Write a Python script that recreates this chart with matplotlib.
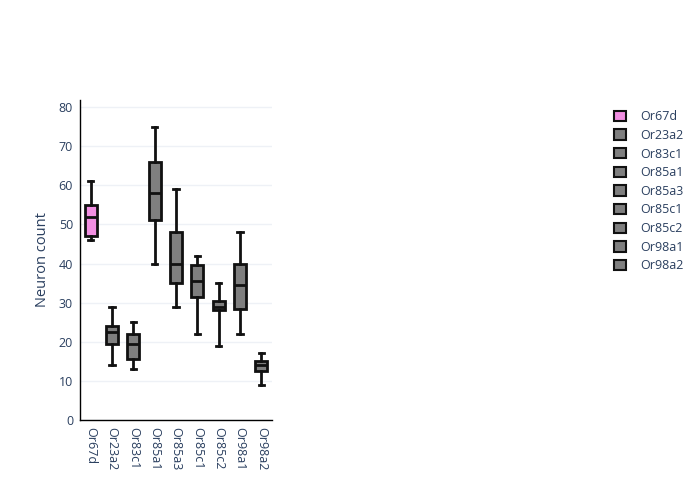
import matplotlib.pyplot as plt
from matplotlib.patches import Patch

# Datos de las cajas
receptores = ["Or67d", "Or23a2", "Or83c1", "Or85a1", "Or85a3",
              "Or85c1", "Or85c2", "Or98a1", "Or98a2"]
minimos = [46, 14, 13, 40, 29, 22, 19, 22, 9]
q1 = [47, 19.5, 15.5, 51, 35, 31.5, 28, 28.5, 12.5]
medianas = [52, 22.5, 19.5, 58, 40, 35.5, 29, 34.5, 14]
q3 = [55, 24, 22, 66, 48, 39.5, 30.5, 40, 15]
maximos = [61, 29, 25, 75, 59, 42, 35, 48, 17]

colores = ["#f28fe2"] + ["#7f7f7f"] * 8
texto = "#2a3f5f"

plt.rcParams['font.family'] = ['Open Sans', 'DejaVu Sans']

fig = plt.figure(figsize=(7, 5), dpi=100)
ax = fig.add_axes([80 / 700, 80 / 500, 192 / 700, 320 / 500])

stats = []
for i, nombre in enumerate(receptores):
    stats.append({"label": nombre, "whislo": minimos[i], "q1": q1[i],
                  "med": medianas[i], "q3": q3[i], "whishi": maximos[i]})

pos = list(range(len(receptores)))
res = ax.bxp(stats, positions=pos, widths=0.55, capwidths=0.25,
             showfliers=False, patch_artist=True,
             boxprops=dict(linewidth=2, edgecolor="#111111"),
             medianprops=dict(color="#111111", linewidth=2),
             whiskerprops=dict(color="#111111", linewidth=2),
             capprops=dict(color="#111111", linewidth=2))
for caja, c in zip(res["boxes"], colores):
    caja.set_facecolor(c)

ax.set_xlim(-0.5, len(receptores) - 0.5)
ax.set_ylim(0, 81.8)
ax.set_yticks(range(0, 81, 10))
ax.set_xticks(pos)
ax.set_xticklabels(receptores, rotation=-90)
ax.tick_params(length=0, labelsize=9, labelcolor=texto, pad=5)
ax.grid(axis="y", color="#eef1f6", linewidth=1)
ax.set_axisbelow(True)
for lado in ["top", "right"]:
    ax.spines[lado].set_visible(False)
for lado in ["left", "bottom"]:
    ax.spines[lado].set_color("black")
    ax.spines[lado].set_linewidth(1)
ax.set_ylabel("Neuron count", color=texto, fontsize=10.5, labelpad=6)

handles = [Patch(facecolor=c, edgecolor="#111111", linewidth=1.5, label=n)
           for c, n in zip(colores, receptores)]
fig.legend(handles=handles, loc="upper left", bbox_to_anchor=(603 / 700, 1 - 99 / 500),
           frameon=False, fontsize=9, labelcolor=texto, handlelength=0.9,
           handleheight=0.9, handletextpad=1.2, labelspacing=0.45)

fig.savefig("out.png", dpi=100)
